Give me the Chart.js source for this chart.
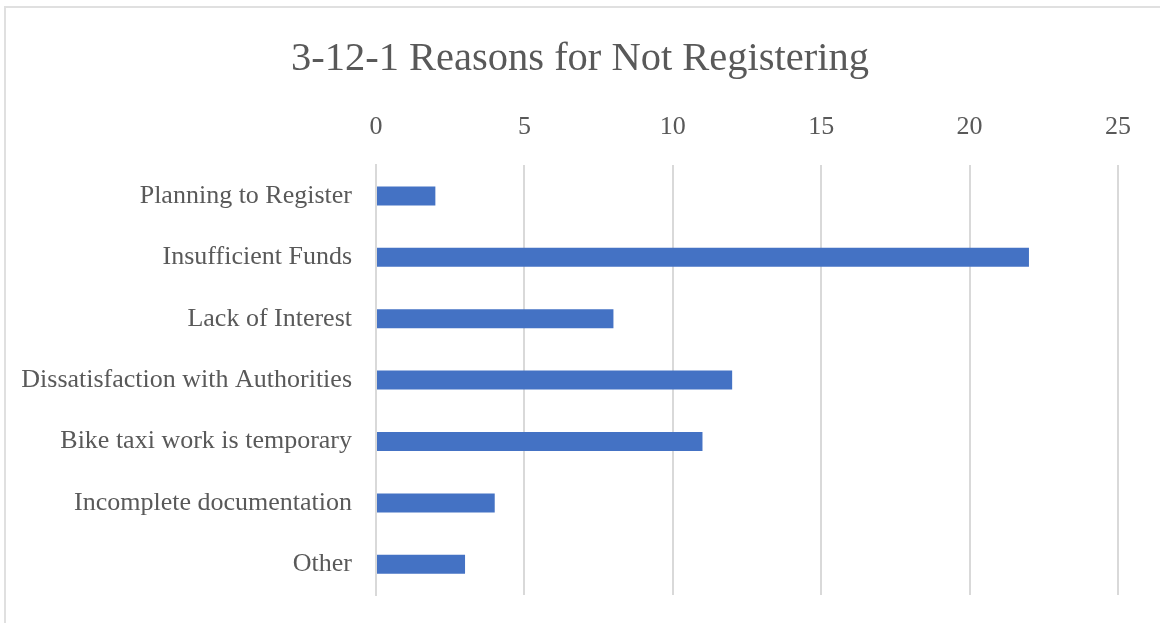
<!DOCTYPE html>
<html>
<head>
<meta charset="utf-8">
<script src="https://cdn.jsdelivr.net/npm/chart.js@4"></script>
<style>
  html, body { margin: 0; padding: 0; background: #fff; overflow: hidden; }
  #frame { position: absolute; left: 4px; top: 6px; width: 1200px; height: 700px; border: 2px solid #e0e0e0; }
  #wrap { position: absolute; left: 0; top: 0; width: 1160px; height: 623px; }
</style>
</head>
<body>
<div id="frame"></div>
<div id="wrap"><canvas id="myChart"></canvas></div>
<script>
var ctx = document.getElementById('myChart').getContext('2d');

const reasons = [
    'Planning to Register',
    'Insufficient Funds',
    'Lack of Interest',
    'Dissatisfaction with Authorities',
    'Bike taxi work is temporary',
    'Incomplete documentation',
    'Other'
];
const counts = [2, 22, 8, 12, 11, 4, 3];

const textGray = '#595959';
const serif = "'Liberation Serif', 'DejaVu Serif', serif";

var myChart = new Chart(ctx, {
    type: 'bar',
    data: {
        labels: reasons,
        datasets: [{
            label: 'Count',
            data: counts,
            backgroundColor: '#4472C4',
            barPercentage: 0.31,
            categoryPercentage: 1.0
        }]
    },
    options: {
        indexAxis: 'y',
        responsive: true,
        maintainAspectRatio: false,
        animation: false,
        layout: {
            padding: 0
        },
        plugins: {
            legend: { display: false },
            tooltip: { enabled: false },
            title: {
                display: true,
                text: '3-12-1 Reasons for Not Registering',
                color: textGray,
                font: { family: serif, size: 40.5, weight: 'normal', lineHeight: 1.2 },
                padding: { top: 35, bottom: 28 }
            }
        },
        scales: {
            x: {
                position: 'top',
                min: 0,
                max: 25,
                ticks: {
                    stepSize: 5,
                    color: textGray,
                    padding: 22,
                    font: { family: serif, size: 26, lineHeight: 1.2 }
                },
                grid: { color: '#d9d9d9', lineWidth: 2, drawTicks: false },
                border: { display: false },
                afterFit: function (axis) {
                    axis.height = 53.6;
                    axis.paddingLeft = 0;
                    axis.paddingRight = 42;
                }
            },
            y: {
                ticks: {
                    color: textGray,
                    padding: 24,
                    font: { family: serif, size: 26, lineHeight: 1.2 }
                },
                grid: { display: false, drawTicks: false },
                border: { display: true, color: '#d9d9d9', width: 2 },
                afterFit: function (axis) {
                    axis.width = 376;
                    axis.paddingTop = 0;
                    axis.paddingBottom = 28;
                }
            }
        }
    }
});
</script>
</body>
</html>
